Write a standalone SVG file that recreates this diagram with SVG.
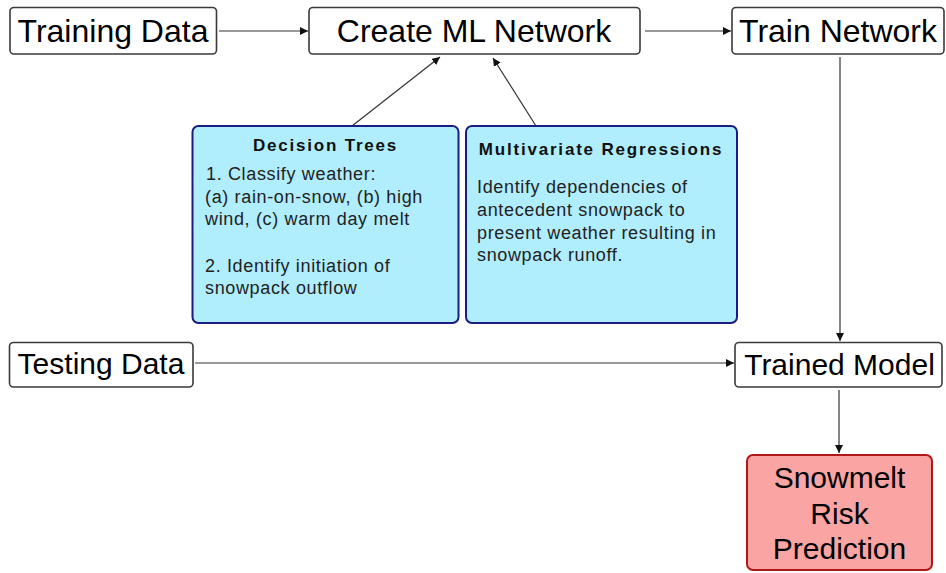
<svg xmlns="http://www.w3.org/2000/svg" width="946" height="573" viewBox="0 0 946 573">
<defs>
<marker id="arr" viewBox="0 0 10 10" refX="10" refY="5" markerWidth="8" markerHeight="8" markerUnits="userSpaceOnUse" orient="auto">
<path d="M0,0 L10,5 L0,10 z" fill="#111"/>
</marker>
<style>
.box{fill:#ffffff;stroke:#3a3a3a;stroke-width:1.6}
.blue{fill:#b0edfd;stroke:#1c1c82;stroke-width:2}
.red{fill:#fba4a4;stroke:#b01818;stroke-width:2}
.big{font-family:"Liberation Sans",Arial,sans-serif;fill:#000;text-anchor:middle}
.ttl{font-family:"Liberation Sans",Arial,sans-serif;font-weight:bold;font-size:17px;letter-spacing:1.8px;fill:#111;text-anchor:middle}
.body{font-family:"Liberation Sans",Arial,sans-serif;font-size:18px;letter-spacing:0.65px;fill:#222}
.con{stroke:#333;stroke-width:1.2;fill:none;marker-end:url(#arr)}
</style>
</defs>
<rect width="946" height="573" fill="#ffffff"/>
<g id="connectors">
<line class="con" x1="219" y1="31" x2="308" y2="31"/>
<line class="con" x1="645" y1="31" x2="731" y2="31"/>
<line class="con" x1="840" y1="57" x2="840" y2="341"/>
<line class="con" x1="352" y1="126" x2="440" y2="57"/>
<line class="con" x1="536" y1="126" x2="493" y2="58"/>
<line class="con" x1="195" y1="363" x2="734" y2="363"/>
<line class="con" x1="839" y1="390" x2="839" y2="453"/>
</g>
<g id="training-data">
<rect class="box" x="10" y="7.5" width="206.5" height="46.5" rx="4"/>
<text class="big" x="113" y="42" font-size="32">Training Data</text>
</g>
<g id="create-ml-network">
<rect class="box" x="309" y="7.5" width="331" height="46.5" rx="4"/>
<text class="big" x="474" y="42" font-size="32">Create ML Network</text>
</g>
<g id="train-network">
<rect class="box" x="732" y="7.5" width="212" height="46.5" rx="4"/>
<text class="big" x="838" y="42" font-size="32">Train Network</text>
</g>
<g id="decision-trees">
<rect class="blue" x="192.5" y="126" width="266" height="197" rx="6"/>
<text class="ttl" x="325.5" y="151">Decision Trees</text>
<text class="body" x="206" y="180">1. Classify weather:</text>
<text class="body" x="205" y="202.5">(a) rain-on-snow, (b) high</text>
<text class="body" x="205" y="225">wind, (c) warm day melt</text>
<text class="body" x="205" y="272">2. Identify initiation of</text>
<text class="body" x="205" y="294">snowpack outflow</text>
</g>
<g id="multivariate-regressions">
<rect class="blue" x="466" y="126" width="271" height="197" rx="6"/>
<text class="ttl" x="601" y="155">Multivariate Regressions</text>
<text class="body" x="477" y="193">Identify dependencies of</text>
<text class="body" x="477" y="216">antecedent snowpack to</text>
<text class="body" x="477" y="238.5">present weather resulting in</text>
<text class="body" x="477" y="261">snowpack runoff.</text>
</g>
<g id="testing-data">
<rect class="box" x="9.5" y="342.5" width="183.5" height="44.5" rx="4"/>
<text class="big" x="101" y="374" font-size="30">Testing Data</text>
</g>
<g id="trained-model">
<rect class="box" x="735" y="342.5" width="207" height="44.5" rx="4"/>
<text class="big" x="839.5" y="375" font-size="30">Trained Model</text>
</g>
<g id="snowmelt-risk-prediction">
<rect class="red" x="747" y="455" width="185" height="115" rx="6"/>
<text class="big" x="839.5" y="488" font-size="30">Snowmelt</text>
<text class="big" x="839.5" y="524" font-size="30">Risk</text>
<text class="big" x="839.5" y="559" font-size="30">Prediction</text>
</g>
</svg>
